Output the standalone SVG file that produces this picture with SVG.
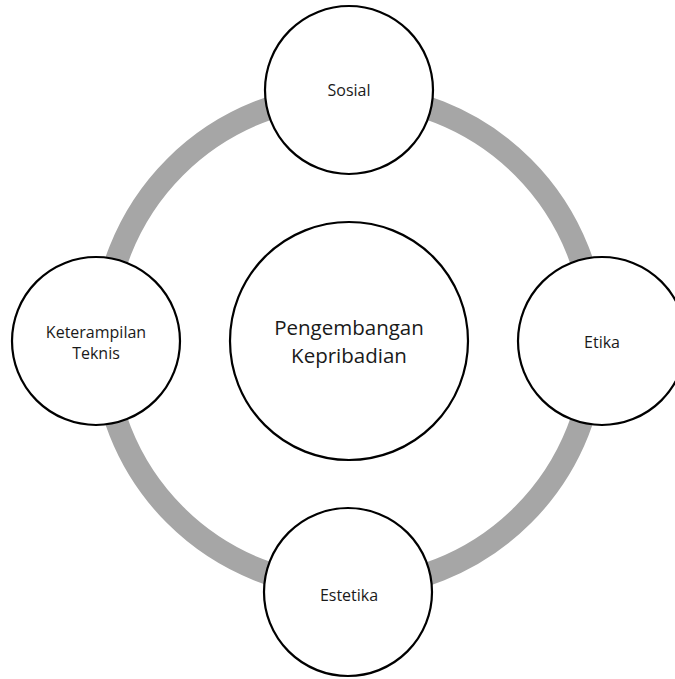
<svg xmlns="http://www.w3.org/2000/svg" width="675" height="679" viewBox="0 0 675 679">
  <style>
    .node { fill: #ffffff; stroke: #000000; stroke-width: 2.2; }
    .lbl { font-family: "Open Sans", "Liberation Sans", sans-serif; font-size: 16px; fill: #1a1a1a; text-anchor: middle; }
    .big { font-size: 20.5px; }
    .ring { fill: none; stroke: #a6a6a6; stroke-width: 23; }
  </style>
  <rect width="675" height="679" fill="#ffffff"/>
  <g id="connectors">
    <circle class="ring" cx="349" cy="341" r="246"/>
  </g>
  <g id="center">
    <circle class="node" cx="349" cy="341" r="119"/>
    <text class="lbl big" x="349" y="335">Pengembangan</text>
    <text class="lbl big" x="349" y="363">Kepribadian</text>
  </g>
  <g id="sosial">
    <circle class="node" cx="349" cy="90" r="84"/>
    <text class="lbl" x="349" y="96">Sosial</text>
  </g>
  <g id="etika">
    <circle class="node" cx="602" cy="341" r="84"/>
    <text class="lbl" x="602" y="348">Etika</text>
  </g>
  <g id="estetika">
    <circle class="node" cx="348" cy="592" r="84"/>
    <text class="lbl" x="349" y="601">Estetika</text>
  </g>
  <g id="keterampilan">
    <circle class="node" cx="96" cy="341" r="84"/>
    <text class="lbl" x="96" y="338">Keterampilan</text>
    <text class="lbl" x="96" y="359">Teknis</text>
  </g>
</svg>
